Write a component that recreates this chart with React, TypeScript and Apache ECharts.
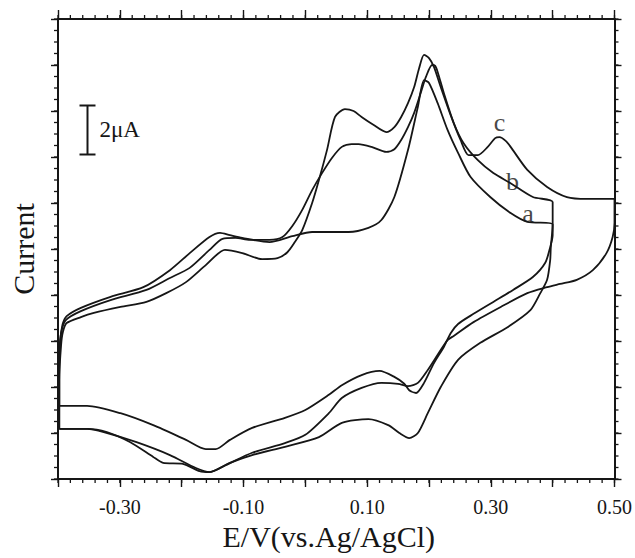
import React, { useEffect, useRef } from "react";
import * as echarts from "echarts";

// Potential axis (V vs Ag/AgCl)
const xMin = -0.4;
const xMax = 0.5;
const xMajorStep = 0.1;
const xMinorStep = 0.02;
const xLabeled = ["-0.30", "-0.10", "0.10", "0.30", "0.50"];
// Current axis in arbitrary divisions (no labels in the original)
const yMin = 0;
const yMax = 10;
const yMajorStep = 1;
const yMinorStep = 0.25;

// Curve a: [E (V), current (div)]
const curveA: [number, number][] = [
  [-0.398, 1.59], [-0.398, 2.37], [-0.397, 2.91], [-0.395, 3.17], [-0.392, 3.39], [-0.386, 3.54],
  [-0.363, 3.72], [-0.315, 3.96], [-0.262, 4.17], [-0.219, 4.54], [-0.187, 4.91], [-0.155, 5.26],
  [-0.138, 5.35], [-0.122, 5.3], [-0.102, 5.24], [-0.058, 5.15], [-0.021, 5.28], [0.011, 5.37],
  [0.07, 5.37], [0.102, 5.46], [0.123, 5.63], [0.144, 6.13], [0.166, 7.15], [0.182, 8.09],
  [0.192, 8.67], [0.2, 8.61], [0.214, 8.17], [0.23, 7.59], [0.247, 7.09], [0.267, 6.57],
  [0.299, 6.13], [0.332, 5.78], [0.359, 5.59], [0.4, 5.54],
  [0.4, 5.3], [0.396, 5.04], [0.388, 4.7], [0.368, 4.39], [0.336, 4.11], [0.304, 3.85],
  [0.272, 3.59], [0.247, 3.37], [0.235, 3.17], [0.224, 2.87], [0.208, 2.52], [0.192, 2.09],
  [0.179, 1.87], [0.168, 1.93], [0.16, 2.07], [0.144, 2.22], [0.12, 2.35], [0.091, 2.26],
  [0.059, 2.04], [0.038, 1.83], [0.0, 1.5], [-0.033, 1.33], [-0.086, 1.11], [-0.122, 0.85],
  [-0.145, 0.65], [-0.161, 0.65], [-0.193, 0.85], [-0.246, 1.17], [-0.299, 1.43], [-0.353, 1.59],
  [-0.398, 1.59],
];

// Curve b
const curveB: [number, number][] = [
  [-0.398, 1.09], [-0.398, 2.15], [-0.397, 2.91], [-0.394, 3.24], [-0.387, 3.46], [-0.363, 3.65],
  [-0.315, 3.89], [-0.257, 4.11], [-0.219, 4.37], [-0.187, 4.59], [-0.155, 4.98], [-0.134, 5.22],
  [-0.113, 5.24], [-0.09, 5.2], [-0.058, 5.2], [-0.037, 5.26], [-0.021, 5.5], [-0.005, 5.85],
  [0.011, 6.28], [0.027, 6.65], [0.043, 6.98], [0.059, 7.22], [0.075, 7.28], [0.086, 7.28],
  [0.107, 7.22], [0.131, 7.11], [0.144, 7.17], [0.155, 7.37], [0.166, 7.65], [0.176, 7.96],
  [0.187, 8.41], [0.195, 8.74], [0.205, 9.0], [0.21, 8.98], [0.214, 8.85], [0.224, 8.39],
  [0.24, 7.74], [0.256, 7.3], [0.279, 6.93], [0.304, 6.65], [0.332, 6.43], [0.368, 6.13],
  [0.4, 6.02],
  [0.4, 5.54], [0.397, 5.04], [0.396, 4.76], [0.391, 4.33], [0.38, 4.04], [0.364, 3.67],
  [0.327, 3.3], [0.283, 2.96], [0.247, 2.59], [0.219, 2.0], [0.198, 1.43], [0.182, 1.0],
  [0.168, 0.89], [0.152, 1.0], [0.134, 1.17], [0.102, 1.3], [0.059, 1.22], [0.022, 0.91],
  [-0.033, 0.7], [-0.086, 0.52], [-0.122, 0.35], [-0.155, 0.15], [-0.177, 0.24], [-0.219, 0.52],
  [-0.273, 0.8], [-0.326, 1.02], [-0.353, 1.09], [-0.398, 1.09],
];

// Curve c
const curveC: [number, number][] = [
  [-0.398, 1.09], [-0.398, 2.15], [-0.395, 2.91], [-0.392, 3.2], [-0.386, 3.39], [-0.363, 3.52],
  [-0.342, 3.61], [-0.299, 3.74], [-0.257, 3.85], [-0.225, 4.04], [-0.193, 4.28], [-0.161, 4.65],
  [-0.13, 4.98], [-0.102, 4.91], [-0.07, 4.78], [-0.045, 4.8], [-0.029, 4.93], [-0.017, 5.15],
  [-0.005, 5.41], [0.011, 6.0], [0.022, 6.5], [0.035, 7.15], [0.048, 7.87], [0.064, 8.04],
  [0.078, 8.0], [0.091, 7.87], [0.11, 7.7], [0.131, 7.54], [0.144, 7.65], [0.155, 7.87],
  [0.166, 8.17], [0.176, 8.52], [0.184, 8.93], [0.192, 9.22], [0.2, 9.15], [0.208, 8.96],
  [0.219, 8.52], [0.235, 7.91], [0.251, 7.37], [0.264, 7.04], [0.279, 7.04], [0.295, 7.22],
  [0.307, 7.41], [0.314, 7.43], [0.324, 7.35], [0.332, 7.22], [0.359, 6.72], [0.391, 6.35],
  [0.423, 6.13], [0.455, 6.09], [0.5, 6.09],
  [0.5, 5.57], [0.497, 5.26], [0.487, 4.91], [0.465, 4.54], [0.439, 4.33], [0.412, 4.24],
  [0.391, 4.17], [0.359, 4.04], [0.316, 3.74], [0.272, 3.41], [0.24, 3.11], [0.23, 3.02],
  [0.214, 2.7], [0.198, 2.37], [0.182, 2.09], [0.166, 2.02], [0.15, 2.07], [0.123, 2.09],
  [0.091, 1.98], [0.059, 1.76], [0.038, 1.43], [0.0, 0.96], [-0.033, 0.78], [-0.086, 0.57],
  [-0.129, 0.3], [-0.155, 0.15], [-0.171, 0.17], [-0.198, 0.33], [-0.23, 0.35], [-0.246, 0.48],
  [-0.283, 0.8], [-0.321, 1.02], [-0.353, 1.09], [-0.398, 1.09],
];

// Curve labels placed in data space
const curveLabels: [number, number, string][] = [
  [0.314, 7.74, "c"],
  [0.335, 6.46, "b"],
  [0.36, 5.78, "a"],
];

const FONT = "'Liberation Serif', 'Times New Roman', serif";
const INK = "#161616";

// minor tick values (frame sides: 0 bottom, 1 top, 2 left, 3 right)
function minorTickItems(): number[][] {
  const items: number[][] = [];
  const nx = Math.round((xMax - xMin) / xMinorStep);
  for (let i = 0; i <= nx; i++) {
    const v = +(xMin + i * xMinorStep).toFixed(4);
    items.push([v, yMin, 0]);
    items.push([v, yMin, 1]);
  }
  const ny = Math.round((yMax - yMin) / yMinorStep);
  for (let i = 0; i <= ny; i++) {
    const v = +(yMin + i * yMinorStep).toFixed(4);
    items.push([xMin, v, 2]);
    items.push([xMin, v, 3]);
  }
  return items;
}

export default function App() {
  const ref = useRef<HTMLDivElement>(null);

  useEffect(() => {
    if (!ref.current) return;
    const chart = echarts.init(ref.current, undefined, { renderer: "svg" });

    const xLabelFmt = (v: number) => {
      const s = v.toFixed(2);
      return xLabeled.includes(s) ? s : "";
    };

    const xAxisOf = (position: "bottom" | "top", tickLen: number, extra: any = {}) => ({
      type: "value" as const,
      position,
      min: xMin,
      max: xMax,
      interval: xMajorStep,
      splitLine: { show: false },
      axisLabel: { show: false },
      axisLine: { show: true, onZero: false, lineStyle: { color: INK, width: 2 } },
      axisTick: { show: true, inside: false, length: tickLen, lineStyle: { color: INK, width: 1.4 } },
      ...extra,
    });
    const yAxisOf = (position: "left" | "right", tickLen: number, extra: any = {}) => ({
      type: "value" as const,
      position,
      min: yMin,
      max: yMax,
      interval: yMajorStep,
      splitLine: { show: false },
      axisLabel: { show: false },
      axisLine: { show: true, onZero: false, lineStyle: { color: INK, width: 2 } },
      axisTick: { show: true, inside: false, length: tickLen, lineStyle: { color: INK, width: 1.4 } },
      ...extra,
    });

    const lineSeries = (name: string, data: [number, number][]) => ({
      name,
      type: "line" as const,
      data,
      xAxisIndex: 0,
      yAxisIndex: 0,
      showSymbol: false,
      symbol: "none",
      smooth: 0.25,
      lineStyle: { color: INK, width: 1.8 },
      silent: true,
      z: 3,
    });

    chart.setOption({
      animation: false,
      backgroundColor: "#ffffff",
      grid: { left: 54, right: 20, top: 19, bottom: 79, containLabel: false },
      xAxis: [
        xAxisOf("bottom", 8, {
          name: "E/V(vs.Ag/AgCl)",
          nameLocation: "middle",
          nameGap: 27,
          nameTextStyle: { fontFamily: FONT, fontSize: 30, color: INK, padding: [0, 15, 0, 0] },
          axisLabel: {
            show: true,
            formatter: xLabelFmt,
            fontFamily: FONT,
            fontSize: 20,
            color: INK,
            margin: 18,
            showMinLabel: true,
            showMaxLabel: true,
          },
        }),
        xAxisOf("top", 9),
      ],
      yAxis: [
        yAxisOf("left", 7, {
          name: "Current",
          nameLocation: "middle",
          nameGap: 20,
          nameTextStyle: { fontFamily: FONT, fontSize: 30, color: INK },
        }),
        yAxisOf("right", 7),
      ],
      series: [
        lineSeries("a", curveA),
        lineSeries("b", curveB),
        lineSeries("c", curveC),
        {
          name: "minorTicks",
          type: "custom",
          xAxisIndex: 0,
          yAxisIndex: 0,
          clip: false,
          silent: true,
          data: minorTickItems(),
          renderItem: (params: any, api: any) => {
            const side = api.value(2);
            const len = 4;
            let x1 = 0, y1 = 0, x2 = 0, y2 = 0;
            if (side === 0 || side === 1) {
              const p = api.coord([api.value(0), side === 0 ? yMin : yMax]);
              x1 = x2 = p[0];
              y1 = p[1];
              y2 = side === 0 ? p[1] + len : p[1] - len;
            } else {
              const p = api.coord([side === 2 ? xMin : xMax, api.value(1)]);
              y1 = y2 = p[1];
              x1 = p[0];
              x2 = side === 2 ? p[0] - len : p[0] + len;
            }
            return {
              type: "line",
              shape: { x1, y1, x2, y2 },
              style: { stroke: INK, lineWidth: 1.3 },
            };
          },
          z: 2,
        },
        {
          name: "labels",
          type: "scatter",
          xAxisIndex: 0,
          yAxisIndex: 0,
          data: curveLabels.map(([x, y, t]) => ({ value: [x, y], name: t })),
          symbolSize: 1,
          itemStyle: { color: "rgba(0,0,0,0)" },
          label: {
            show: true,
            position: "inside",
            formatter: (p: any) => p.name,
            fontFamily: FONT,
            fontSize: 26,
            color: INK,
          },
          silent: true,
          z: 4,
        },
      ],
      graphic: [
        {
          type: "group",
          left: 77,
          top: 103,
          children: [
            { type: "line", shape: { x1: 8, y1: 0, x2: 8, y2: 49 }, style: { stroke: INK, lineWidth: 2 } },
            { type: "line", shape: { x1: 0, y1: 0, x2: 16, y2: 0 }, style: { stroke: INK, lineWidth: 2 } },
            { type: "line", shape: { x1: 0, y1: 49, x2: 16, y2: 49 }, style: { stroke: INK, lineWidth: 2 } },
            {
              type: "text",
              x: 20,
              y: 24,
              style: {
                text: "2μA",
                fontFamily: FONT,
                fontSize: 23,
                fill: INK,
                verticalAlign: "middle",
                align: "left",
              },
            },
          ],
        },
      ],
    });

    return () => chart.dispose();
  }, []);

  return (
    <div
      ref={ref}
      style={{ position: "absolute", left: 0, top: 0, width: 635, height: 558, background: "#fff" }}
    />
  );
}
